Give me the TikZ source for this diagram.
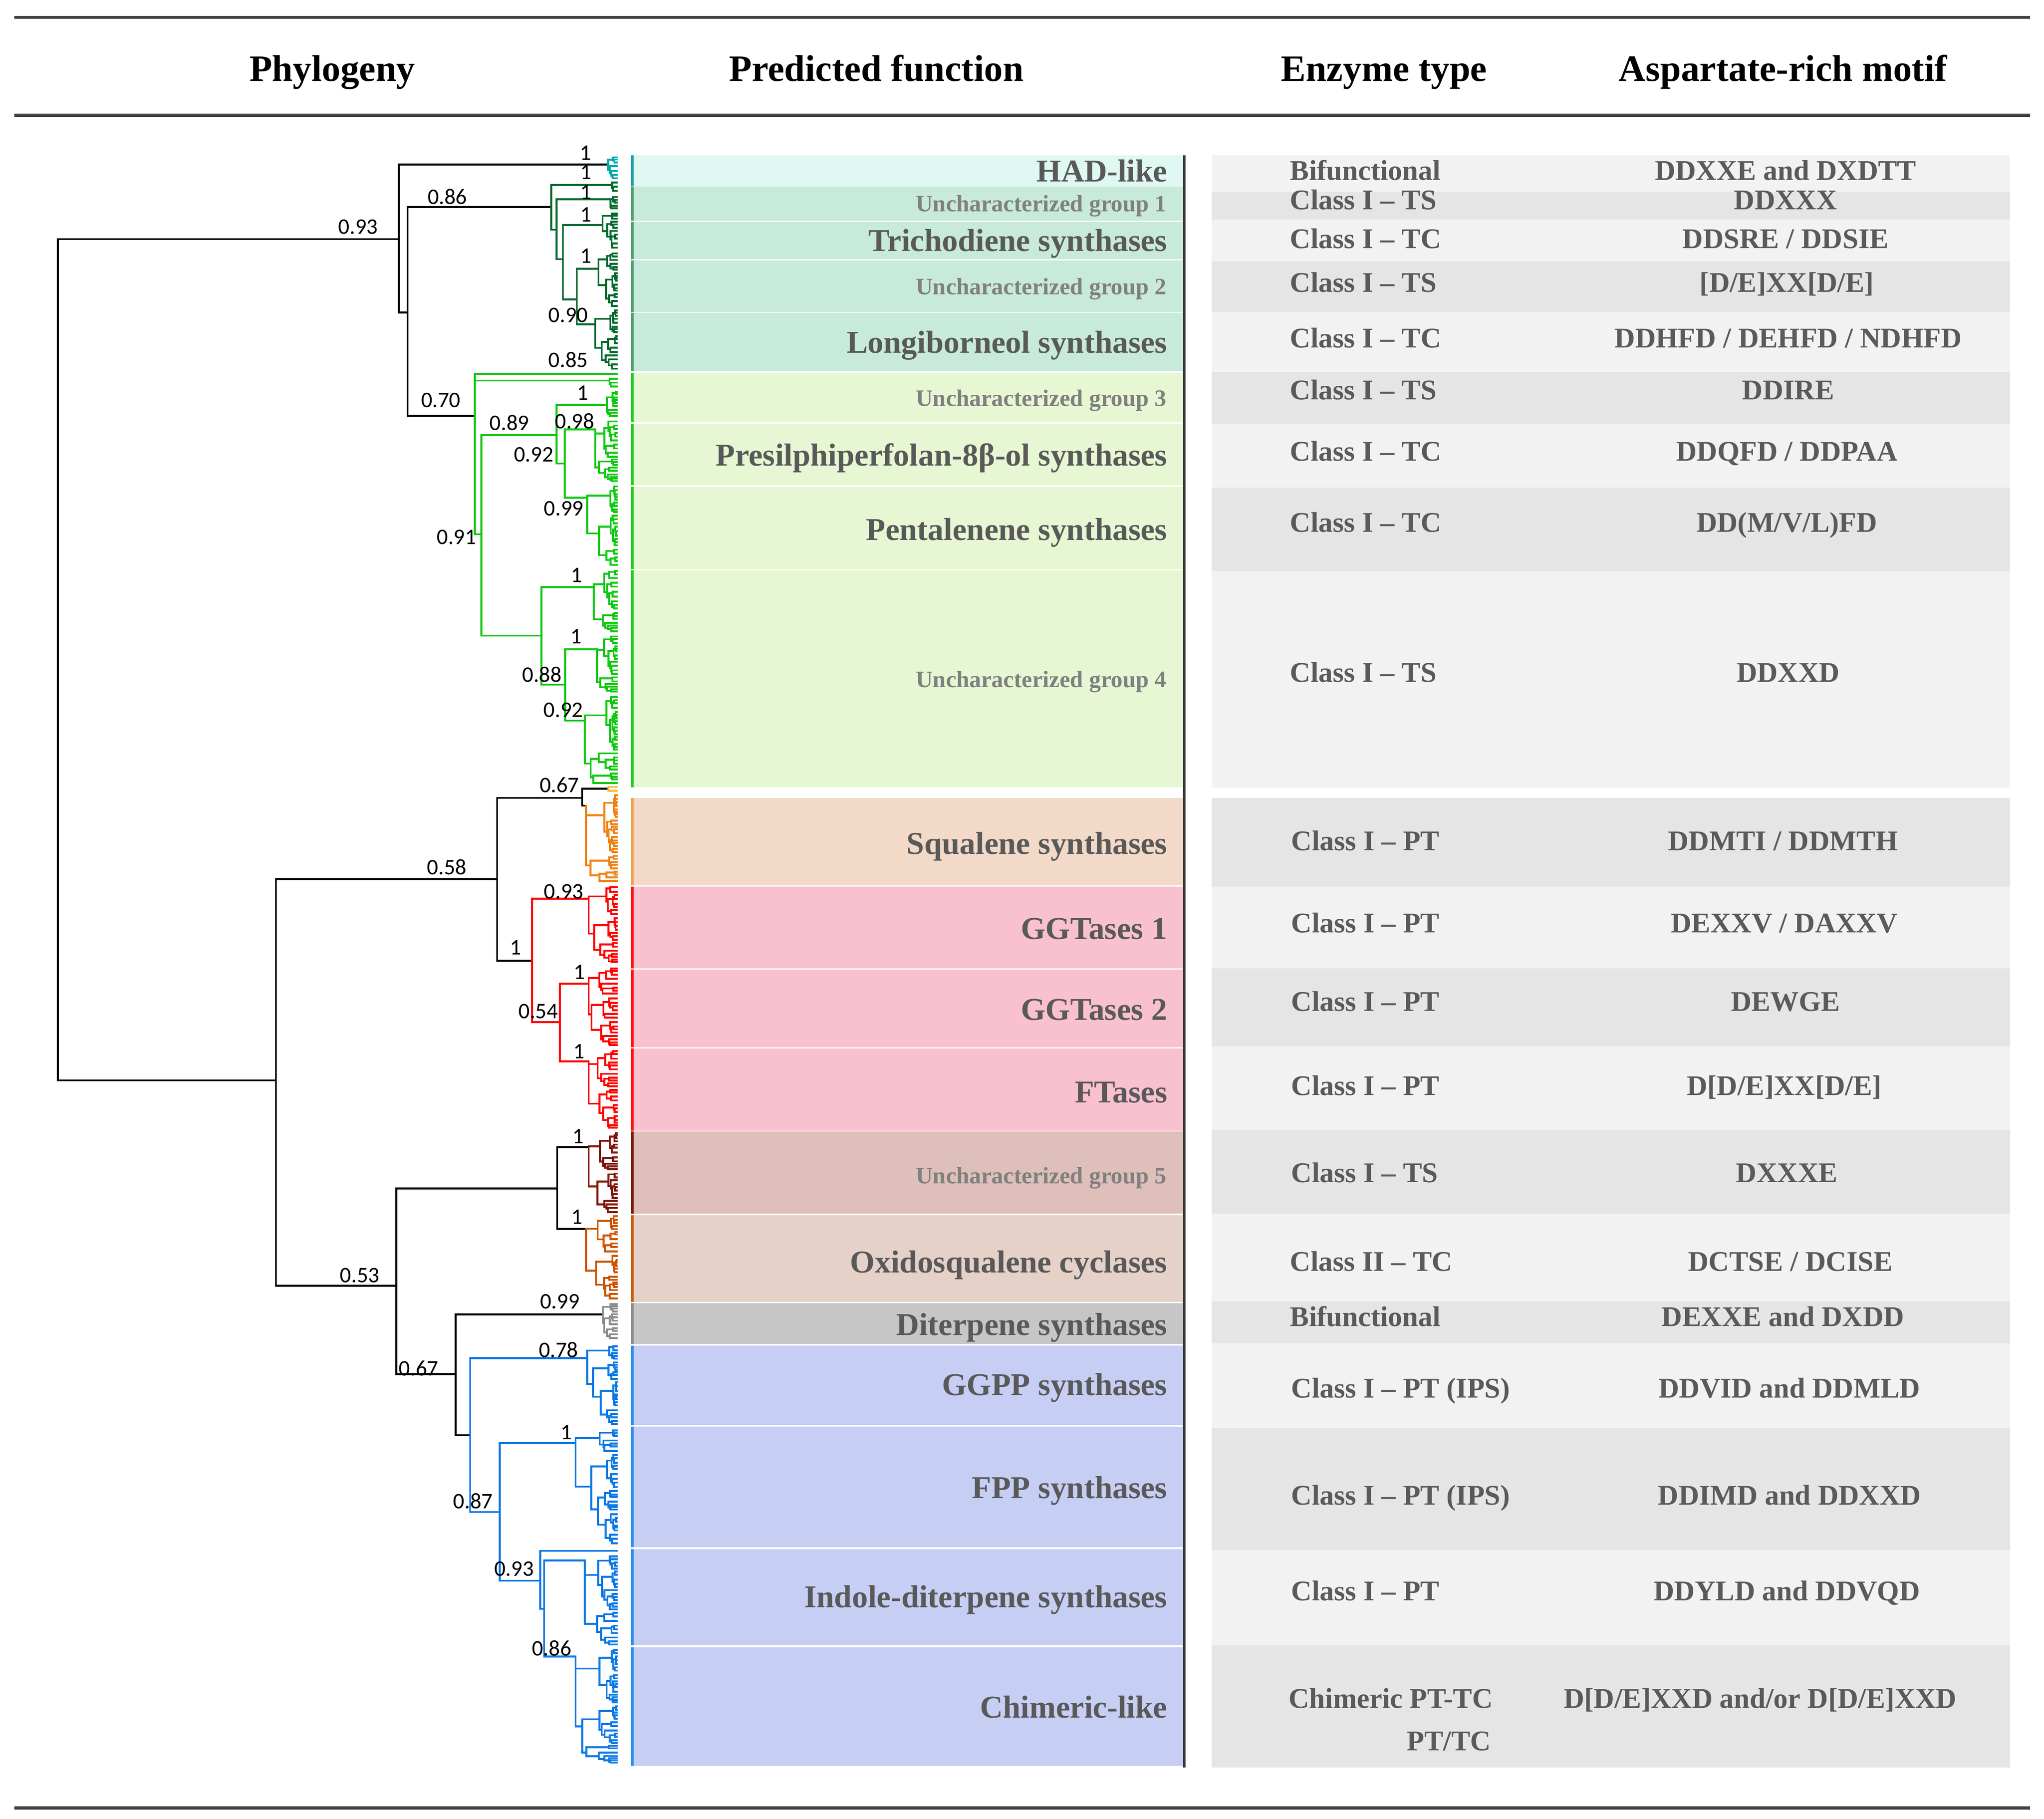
\documentclass[tikz,border=0pt]{standalone}
\usepackage{fontspec}
\setmainfont{Liberation Serif}
\newfontfamily\bsfont{Carlito}
\definecolor{rulec}{HTML}{404040}
\definecolor{vline}{HTML}{3A3A3A}
\definecolor{lblgray}{HTML}{595959}
\definecolor{uggray}{HTML}{808080}
\definecolor{tblgray}{HTML}{5A5A5A}
\definecolor{rowlight}{HTML}{F2F2F2}
\definecolor{rowdark}{HTML}{E5E5E5}
% tree colours
\definecolor{hadc}{RGB}{0,168,170}
\definecolor{dgc}{RGB}{0,107,47}
\definecolor{bgc}{RGB}{17,200,17}
\definecolor{sqc}{RGB}{240,130,20}
\definecolor{ylc}{RGB}{250,185,60}
\definecolor{rdc}{RGB}{255,0,0}
\definecolor{u5c}{RGB}{125,20,5}
\definecolor{oxc}{RGB}{204,85,0}
\definecolor{gyc}{RGB}{140,140,140}
\definecolor{blc}{RGB}{10,120,230}
% band fills
\definecolor{hadband}{HTML}{DFF8F1}
\definecolor{dgband}{HTML}{C8EADA}
\definecolor{bgband}{HTML}{E8F7D3}
\definecolor{sqband}{HTML}{F3D9C8}
\definecolor{rdband}{HTML}{F9C0D0}
\definecolor{u5band}{HTML}{DEBFBA}
\definecolor{oxband}{HTML}{E5D1C7}
\definecolor{gyband}{HTML}{C6C6C6}
\definecolor{blband}{HTML}{C6CEF4}
% strips
\definecolor{hadstrip}{HTML}{1AA0AE}
\definecolor{dgstrip}{HTML}{4E9E6E}
\definecolor{bgstrip}{HTML}{22CC22}
\definecolor{sqstrip}{HTML}{F0A050}
\definecolor{rdstrip}{HTML}{FF1010}
\definecolor{u5strip}{HTML}{7D1A08}
\definecolor{oxstrip}{HTML}{CC5A10}
\definecolor{gystrip}{HTML}{8C8C8C}
\definecolor{blstrip}{HTML}{2B8CF0}

\def\tipx{471.5}
\def\leafgap{4.2}
\makeatletter
\newcommand\clade[4]{%
  \begingroup
  \pgfmathtruncatemacro\cl@leaf{((#3)-(#2))<\leafgap ? 1 : 0}%
  \ifnum\cl@leaf=1
    \draw (#1,#4) -- (\tipx,#4);%
  \else
    \pgfmathsetmacro\cl@m{(#2)+((#3)-(#2))*(0.18+0.5*rnd)}%
    \pgfmathsetmacro\cl@ya{(#2)+(\cl@m-(#2))*0.35}%
    \pgfmathsetmacro\cl@yb{\cl@m+((#3)-\cl@m)*0.35}%
    \pgfmathsetmacro\cl@xa{(#1)+(\tipx-(#1))*(0.3+0.5*rnd)}%
    \pgfmathsetmacro\cl@xb{(#1)+(\tipx-(#1))*(0.08+0.35*rnd)}%
    \pgfmathsetmacro\cl@top{min(\cl@ya,#4)}%
    \pgfmathsetmacro\cl@bot{max(\cl@yb,#4)}%
    \draw (#1,\cl@top) -- (#1,\cl@bot);%
    \draw (#1,\cl@ya) -- (\cl@xa,\cl@ya);%
    \draw (#1,\cl@yb) -- (\cl@xb,\cl@yb);%
    \edef\cl@next{\noexpand\clade{\cl@xa}{#2}{\cl@m}{\cl@ya}\noexpand\clade{\cl@xb}{\cl@m}{#3}{\cl@yb}}%
    \cl@next
  \fi
  \endgroup}
\makeatother

\begin{document}
\begin{tikzpicture}[x=1pt,y=-1pt,
  tree/.style={line width=1.45pt, line cap=rect},
  hdr/.style={font=\bfseries\fontsize{28.5}{32}\selectfont, text=black, anchor=base, inner sep=0pt},
  bandlbl/.style={font=\bfseries\fontsize{24.3}{28}\selectfont, text=lblgray, anchor=base east, inner sep=0pt},
  uglbl/.style={font=\bfseries\fontsize{18}{22}\selectfont, text=uggray, anchor=base east, inner sep=0pt},
  enz/.style={font=\bfseries\fontsize{21.8}{26}\selectfont, text=tblgray, anchor=base west, inner sep=0pt},
  mot/.style={font=\bfseries\fontsize{21.8}{26}\selectfont, text=tblgray, anchor=base, inner sep=0pt},
  bs/.style={font=\bsfont\fontsize{17}{20}\selectfont, text=black, inner sep=0pt},
  rulestyle/.style={line width=2.4pt, draw=rulec}]
\pgfmathsetseed{4242}
\useasboundingbox (0,0) rectangle (1562.6,1390.4);

% ---------- rules and headers ----------
\draw[rulestyle] (11,13.3) -- (1552,13.3);
\draw[rulestyle] (11,88.2) -- (1552,88.2);
\draw[rulestyle] (11,1382.3) -- (1552,1382.3);
\node[hdr] (hphy) at (254,62) {Phylogeny};
\node[hdr] (hpred) at (670,62) {Predicted function};
\node[hdr] (henz) at (1058,62) {Enzyme type};
\node[hdr] (hmot) at (1363,62) {Aspartate-rich motif};

% ---------- table rows ----------
\foreach \ya/\yb/\c in {118.8/146.5/rowlight,146.5/167.9/rowdark,167.9/199.6/rowlight,199.6/238.3/rowdark,
  238.3/284.4/rowlight,284.4/324.2/rowdark,324.2/372.7/rowlight,372.7/436.5/rowdark,436.5/602.2/rowlight,
  610/677.8/rowdark,677.8/740.3/rowlight,740.3/800/rowdark,800/863.7/rowlight,863.7/928/rowdark,
  928/994.6/rowlight,994.6/1027/rowdark,1027/1091.7/rowlight,1091.7/1184.9/rowdark,1184.9/1257.8/rowlight,
  1257.8/1351.3/rowdark}
  \fill[\c] (926.3,\ya) rectangle (1536.6,\yb);

% ---------- bands ----------
\foreach \ya/\yb/\f/\s in {118.7/142.1/hadband/hadstrip,142.6/168.9/dgband/dgstrip,169.8/198/dgband/dgstrip,
  199/238.3/dgband/dgstrip,239/283.9/dgband/dgstrip,285.3/322.8/bgband/bgstrip,324.1/371.1/bgband/bgstrip,
  372.1/435/bgband/bgstrip,436/602/bgband/bgstrip,610/676.8/sqband/sqstrip,677.8/740.4/rdband/rdstrip,
  741.3/800.8/rdband/rdstrip,801.6/864.3/rdband/rdstrip,865/927.8/u5band/u5strip,929/995.3/oxband/oxstrip,
  996.2/1027.4/gyband/gystrip,1028.9/1089.3/blband/blstrip,1090.6/1182.9/blband/blstrip,
  1184.4/1257.8/blband/blstrip,1259.3/1350.1/blband/blstrip}
{
  \fill[\f] (484.4,\ya) rectangle (905,\yb);
  \fill[\s] (482.6,\ya) rectangle (484.4,\yb);
}
\draw[line width=1.8pt, vline] (905.3,118.7) -- (905.3,1351.3);

% ---------- band labels ----------
\node[bandlbl] (l1) at (892.5,138.8) {HAD-like};
\node[uglbl] (l2) at (892,161.7) {Uncharacterized group 1};
\node[bandlbl] (l3) at (892.5,192) {Trichodiene synthases};
\node[uglbl] (l4) at (892,225.2) {Uncharacterized group 2};
\node[bandlbl] (l5) at (892.5,269.8) {Longiborneol synthases};
\node[uglbl] (l6) at (892,310.6) {Uncharacterized group 3};
\node[bandlbl] (l7) at (892.5,356) {Presilphiperfolan-8β-ol synthases};
\node[bandlbl] (l8) at (892.5,413) {Pentalenene synthases};
\node[uglbl] (l9) at (892,525.5) {Uncharacterized group 4};
\node[bandlbl] (l10) at (892.5,653) {Squalene synthases};
\node[bandlbl] (l11) at (892.5,718) {GGTases 1};
\node[bandlbl] (l12) at (892.5,780) {GGTases 2};
\node[bandlbl] (l13) at (892.5,843) {FTases};
\node[uglbl] (l14) at (892,905) {Uncharacterized group 5};
\node[bandlbl] (l15) at (892.5,973) {Oxidosqualene cyclases};
\node[bandlbl] (l16) at (892.5,1020.7) {Diterpene synthases};
\node[bandlbl] (l17) at (892.5,1066.8) {GGPP synthases};
\node[bandlbl] (l18) at (892.5,1145.5) {FPP synthases};
\node[bandlbl] (l19) at (892.5,1229) {Indole-diterpene synthases};
\node[bandlbl] (l20) at (892.5,1313.2) {Chimeric-like};

% ---------- table text ----------
\node[enz] (e1) at (986,137.8) {Bifunctional};
\node[enz] (e2) at (986,160.1) {Class I – TS};
\node[enz] (e3) at (986,189.8) {Class I – TC};
\node[enz] (e4) at (986,223.3) {Class I – TS};
\node[enz] (e5) at (986,265.9) {Class I – TC};
\node[enz] (e6) at (986,305.6) {Class I – TS};
\node[enz] (e7) at (986,352.3) {Class I – TC};
\node[enz] (e8) at (986,406.6) {Class I – TC};
\node[enz] (e9) at (986,521.5) {Class I – TS};
\node[enz] (e10) at (987,650.2) {Class I – PT};
\node[enz] (e11) at (987,713) {Class I – PT};
\node[enz] (e12) at (987,773) {Class I – PT};
\node[enz] (e13) at (987,837.4) {Class I – PT};
\node[enz] (e14) at (987,904) {Class I – TS};
\node[enz] (e15) at (986,971.8) {Class II – TC};
\node[enz] (e16) at (986,1014) {Bifunctional};
\node[enz] (e17) at (987,1068.5) {Class I – PT (IPS)};
\node[enz] (e18) at (987,1150.5) {Class I – PT (IPS)};
\node[enz] (e19) at (987,1223.5) {Class I – PT};
\node[enz] (e20) at (985,1305.7) {Chimeric PT-TC};
\node[enz, anchor=base east] (e20b) at (1140,1338.2) {PT/TC};

\node[mot] (m1) at (1365,137.8) {DDXXE and DXDTT};
\node[mot] (m2) at (1365,160.1) {DDXXX};
\node[mot] (m3) at (1365,189.8) {DDSRE / DDSIE};
\node[mot] (m4) at (1366,223.3) {[D/E]XX[D/E]};
\node[mot] (m5) at (1367,265.9) {DDHFD / DEHFD / NDHFD};
\node[mot] (m6) at (1367,305.6) {DDIRE};
\node[mot] (m7) at (1366,352.3) {DDQFD / DDPAA};
\node[mot] (m8) at (1366,406.6) {DD(M/V/L)FD};
\node[mot] (m9) at (1367,521.5) {DDXXD};
\node[mot] (m10) at (1363,650.2) {DDMTI / DDMTH};
\node[mot] (m11) at (1364,713) {DEXXV / DAXXV};
\node[mot] (m12) at (1365,773) {DEWGE};
\node[mot] (m13) at (1364,837.4) {D[D/E]XX[D/E]};
\node[mot] (m14) at (1366,904) {DXXXE};
\node[mot] (m15) at (1368.7,971.8) {DCTSE / DCISE};
\node[mot] (m16) at (1363,1014) {DEXXE and DXDD};
\node[mot] (m17) at (1368,1068.5) {DDVID and DDMLD};
\node[mot] (m18) at (1368,1150.5) {DDIMD and DDXXD};
\node[mot] (m19) at (1366,1223.5) {DDYLD and DDVQD};
\node[mot] (m20) at (1345.6,1305.7) {D[D/E]XXD and/or D[D/E]XXD};

% ---------- tree backbone (black) ----------
\begin{scope}[tree, color=black]
  \draw (44.3,182.8) -- (44.3,826);
  \draw (44.3,182.8) -- (304.8,182.8);
  \draw (44.3,826) -- (211,826);
  % A
  \draw (304.8,125.7) -- (304.8,239);
  \draw (304.8,125.7) -- (464.8,125.7);
  \draw (304.8,239) -- (311.6,239);
  % B
  \draw (311.6,158.3) -- (311.6,318);
  \draw (311.6,158.3) -- (421.4,158.3);
  \draw (311.6,318) -- (363,318);
  % P
  \draw (211,672) -- (211,983);
  \draw (211,672) -- (380,672);
  \draw (211,983) -- (303,983);
  % Q
  \draw (380,610) -- (380,734.6);
  \draw (380,610) -- (445,610);
  \draw (380,734.6) -- (406.8,734.6);
  % R
  \draw (445,603) -- (445,616);
  \draw (445,603) -- (465,603);
  \draw (445,616) -- (448,616);
  % V
  \draw (303,908.7) -- (303,1050.5);
  \draw (303,908.7) -- (426,908.7);
  \draw (303,1050.5) -- (348.3,1050.5);
  % W
  \draw (426,877) -- (426,939.5);
  \draw (426,877) -- (450,877);
  \draw (426,939.5) -- (448,939.5);
  % Y
  \draw (348.3,1004.8) -- (348.3,1097.2);
  \draw (348.3,1004.8) -- (461,1004.8);
  \draw (348.3,1097.2) -- (359.4,1097.2);
\end{scope}

% ---------- HAD-like ----------
\begin{scope}[tree, color=hadc]
  \clade{464.8}{120}{137.5}{125.7}
\end{scope}

% ---------- dark green ----------
\begin{scope}[tree, color=dgc]
  \draw (421.4,141.4) -- (421.4,175.6);
  \draw (421.4,141.4) -- (467.6,141.4);
  \draw (421.4,175.6) -- (425.4,175.6);
  \draw (425.4,152.4) -- (425.4,198.1);
  \draw (425.4,152.4) -- (466.7,152.4);
  \draw (425.4,198.1) -- (430.3,198.1);
  \draw (430.3,172.1) -- (430.3,229);
  \draw (430.3,172.1) -- (460.7,172.1);
  \draw (430.3,229) -- (441,229);
  \draw (441,205.4) -- (441,248);
  \draw (441,205.4) -- (457.5,205.4);
  \draw (441,248) -- (455,248);
  \clade{467.6}{138.5}{148}{141.4}
  \clade{466.7}{149.6}{161.3}{152.4}
  \clade{460.7}{162.8}{191.2}{172.1}
  \clade{457.5}{193}{236}{205.4}
  \clade{455}{237}{283.5}{248}
\end{scope}

% ---------- bright green ----------
\begin{scope}[tree, color=bgc]
  \draw (363,286) -- (363,408.5);
  \draw (363,286) -- (\tipx,286);
  \draw (363,291) -- (466,291);
  \draw (363,408.5) -- (368,408.5);
  \draw (368,332.6) -- (368,486);
  \draw (368,332.6) -- (425.5,332.6);
  \draw (368,486) -- (414,486);
  \draw (425.5,309.6) -- (425.5,354.4);
  \draw (425.5,309.6) -- (464,309.6);
  \draw (425.5,354.4) -- (431.7,354.4);
  \draw (431.7,328.3) -- (431.7,380.4);
  \draw (431.7,328.3) -- (455,328.3);
  \draw (431.7,380.4) -- (449,380.4);
  \draw (414,449) -- (414,523.5);
  \draw (414,449) -- (454,449);
  \draw (414,523.5) -- (432,523.5);
  \draw (432,496.5) -- (432,551);
  \draw (432,496.5) -- (456.5,496.5);
  \draw (432,551) -- (447,551);
  \clade{466}{288.5}{298}{291}
  \clade{464}{299}{320}{309.6}
  \clade{455}{321}{370}{328.3}
  \clade{449}{371}{434}{380.4}
  \clade{454}{435.4}{484}{449}
  \clade{456.5}{486}{531}{496.5}
  \clade{447}{532}{601}{551}
\end{scope}

% ---------- squalene ----------
\begin{scope}[tree, color=ylc]
  \clade{465}{600.5}{606.5}{603}
\end{scope}
\begin{scope}[tree, color=sqc]
  \clade{448}{607}{676}{616}
\end{scope}

% ---------- red ----------
\begin{scope}[tree, color=rdc]
  \draw (406.8,687) -- (406.8,781.5);
  \draw (406.8,687) -- (450,687);
  \draw (406.8,781.5) -- (428,781.5);
  \draw (428,752) -- (428,811.5);
  \draw (428,752) -- (450,752);
  \draw (428,811.5) -- (450,811.5);
  \clade{450}{677}{738}{687}
  \clade{450}{740}{801}{752}
  \clade{450}{803}{864}{811.5}
\end{scope}

% ---------- UG5 / oxido / diterpene ----------
\begin{scope}[tree, color=u5c]
  \clade{450}{866}{928}{877}
\end{scope}
\begin{scope}[tree, color=oxc]
  \clade{448}{929}{995}{939.5}
\end{scope}
\begin{scope}[tree, color=gyc]
  \clade{461}{996.5}{1025.5}{1004.8}
\end{scope}

% ---------- blue ----------
\begin{scope}[tree, color=blc]
  \draw (359.4,1038.3) -- (359.4,1156);
  \draw (359.4,1038.3) -- (449,1038.3);
  \draw (359.4,1156) -- (382,1156);
  \draw (382,1103.3) -- (382,1208.5);
  \draw (382,1103.3) -- (440,1103.3);
  \draw (382,1208.5) -- (413,1208.5);
  \draw (413,1185.7) -- (413,1230);
  \draw (413,1185.7) -- (\tipx,1185.7);
  \draw (413,1230) -- (416,1230);
  \draw (416,1193) -- (416,1266.5);
  \draw (416,1193) -- (447,1193);
  \draw (416,1266.5) -- (440,1266.5);
  \clade{449}{1028}{1090}{1038.3}
  \clade{440}{1092.6}{1182.6}{1103.3}
  \clade{447}{1189}{1259}{1193}
  \clade{440}{1260.6}{1350}{1266.5}
\end{scope}

% ---------- support values ----------
\node[bs] (s1) at (447.5,117) {1};
\node[bs] (s2) at (447.8,131.7) {1};
\node[bs] (s3) at (448,147) {1};
\node[bs] (s4) at (448,164) {1};
\node[bs] (s5) at (448,195.7) {1};
\node[bs] (s6) at (342,150.5) {0.86};
\node[bs] (s7) at (434.4,241) {0.90};
\node[bs] (s8) at (434.4,275) {0.85};
\node[bs] (s9) at (273.8,173.4) {0.93};
\node[bs] (s10) at (337,306) {0.70};
\node[bs] (s11) at (389.4,323.2) {0.89};
\node[bs] (s12) at (445.5,300.3) {1};
\node[bs] (s13) at (439.3,321.8) {0.98};
\node[bs] (s14) at (408,347.5) {0.92};
\node[bs] (s15) at (431,388.7) {0.99};
\node[bs] (s16) at (349,410.6) {0.91};
\node[bs] (s17) at (440.7,439.7) {1};
\node[bs] (s18) at (440.4,486.5) {1};
\node[bs] (s19) at (414.3,515.6) {0.88};
\node[bs] (s20) at (430.7,543) {0.92};
\node[bs] (s21) at (427.6,600) {0.67};
\node[bs] (s22) at (341.6,663) {0.58};
\node[bs] (s23) at (431,681.5) {0.93};
\node[bs] (s24) at (394.3,724.3) {1};
\node[bs] (s25) at (443,743) {1};
\node[bs] (s26) at (411.5,773.2) {0.54};
\node[bs] (s27) at (442.6,803.7) {1};
\node[bs] (s28) at (442,868.8) {1};
\node[bs] (s29) at (275,975) {0.53};
\node[bs] (s30) at (441,930.4) {1};
\node[bs] (s31) at (428,995) {0.99};
\node[bs] (s32) at (320,1046) {0.67};
\node[bs] (s33) at (427,1032) {0.78};
\node[bs] (s34) at (433,1095) {1};
\node[bs] (s35) at (361.6,1147.5) {0.87};
\node[bs] (s36) at (393,1199.4) {0.93};
\node[bs] (s37) at (421.7,1260) {0.86};
\end{tikzpicture}
\end{document}
